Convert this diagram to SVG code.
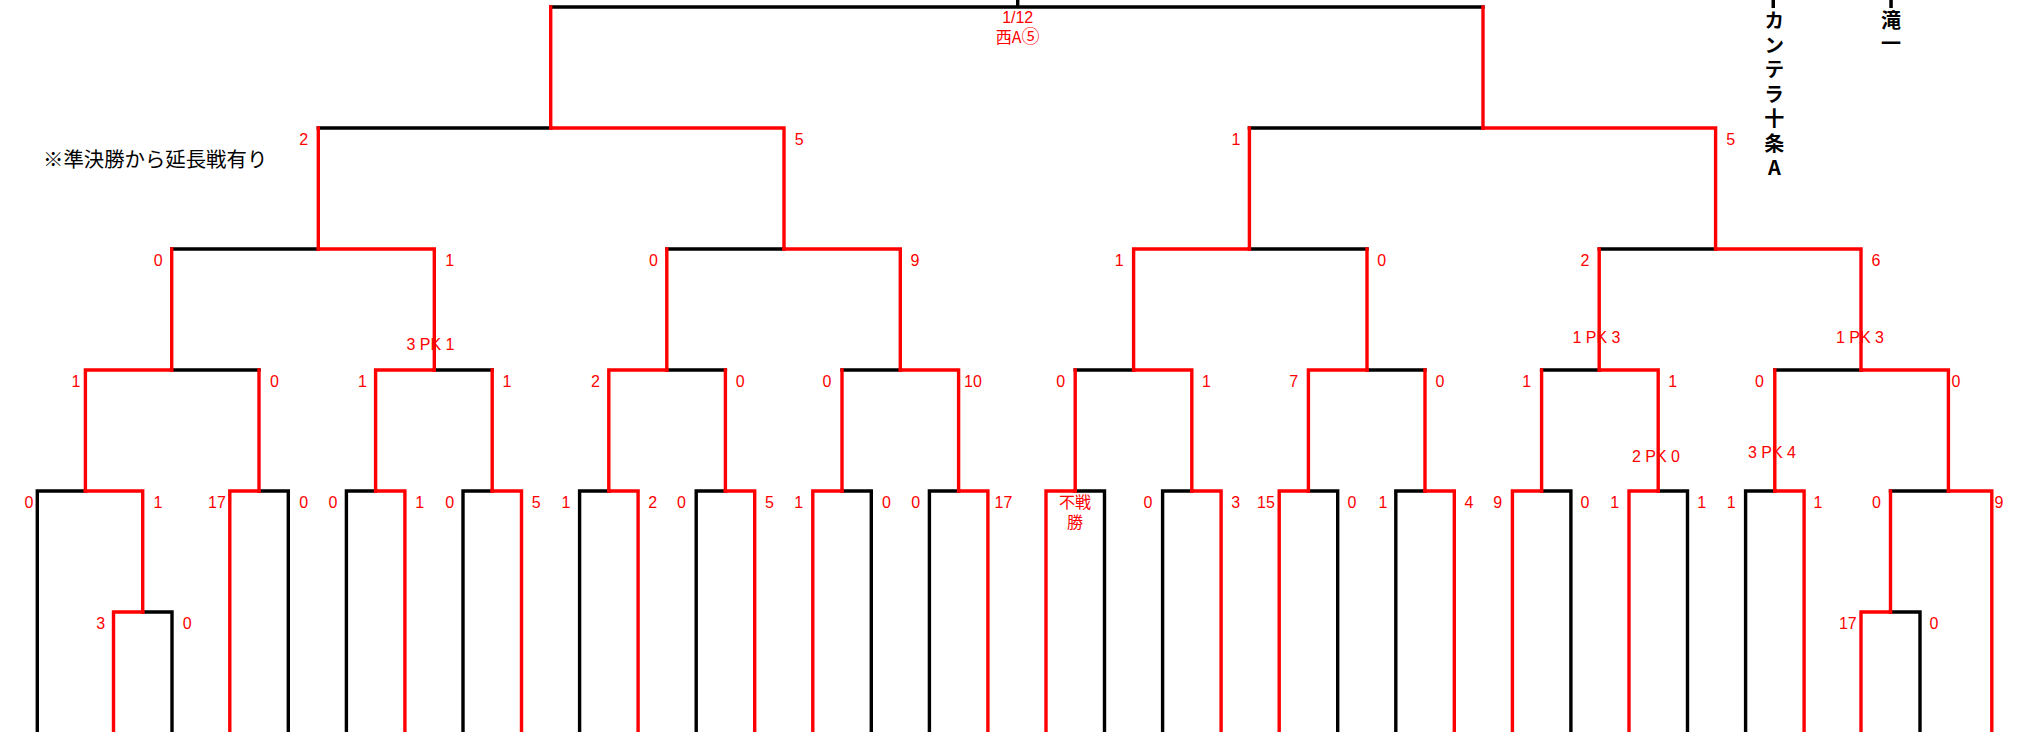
<svg xmlns="http://www.w3.org/2000/svg" width="2031" height="732" viewBox="0 0 2031 732">
<style>
.k{fill:none;stroke:#000;stroke-width:3.4;stroke-linejoin:miter;stroke-linecap:square}
.r{fill:none;stroke:#FF0000;stroke-width:3.4;stroke-linejoin:miter;stroke-linecap:square}
.s{font-family:"Liberation Sans",Arial,sans-serif;font-size:16px;fill:#FF0000;text-anchor:middle}
.j{font-family:"Noto Sans CJK JP","Liberation Sans",sans-serif;font-size:16px;fill:#FF0000;text-anchor:middle}
.v{font-family:"Noto Sans CJK JP","Liberation Sans",sans-serif;font-size:20px;font-weight:bold;fill:#000;writing-mode:vertical-rl;text-orientation:upright}
.n{font-family:"Noto Sans CJK JP","Liberation Sans",sans-serif;font-size:20.4px;fill:#000}
</style>
<rect width="2031" height="732" fill="#fff"/>
<g id="connectors">
<g id="black-lines">
<path class="k" d="M550.7 7 H1483 M1017.7 0 V7"/>
<path class="k" d="M318.3 128 H550.7 M1249.4 128 H1483"/>
<path class="k" d="M171.7 249 H318.3 M666.8 249 H784 M1249.4 249 H1367 M1599.2 249 H1715.6"/>
<path class="k" d="M171.7 370 H259 M434.3 370 H492.2 M666.8 370 H725.4 M842 370 H900.3 M1075.2 370 H1133.6 M1367 370 H1425 M1541.6 370 H1599.2 M1774.8 370 H1861"/>
<path class="k" d="M37.3 736 V491 H85.4 M259 491 H288.3 V736 M346.4 736 V491 H375.6 M463 736 V491 H492.2 M579.6 736 V491 H608.8 M696.2 736 V491 H725.4 M842 491 H871.3 V736 M929.4 736 V491 H958.6 M1075.2 491 H1104.5 V736 M1162.6 736 V491 H1191.8 M1308.4 491 H1337.7 V736 M1395.8 736 V491 H1425 M1541.6 491 H1570.9 V736 M1658.2 491 H1687.5 V736 M1745.6 736 V491 H1774.8 M1890.5 491 H1948.4"/>
<path class="k" d="M142.7 612 H172 V736 M1890.5 612 H1920 V736"/>
</g>
<g id="red-lines">
<path class="r" d="M550.7 7 V128 M1483 7 V128"/>
<path class="r" d="M318.3 249 V128 M550.7 128 H784 V249 M1249.4 249 V128 M1483 128 H1715.6 V249"/>
<path class="r" d="M171.7 370 V249 M318.3 249 H434.3 V370 M666.8 370 V249 M784 249 H900.3 V370 M1133.6 370 V249 H1249.4 M1367 249 V370 M1599.2 370 V249 M1715.6 249 H1861 V370"/>
<path class="r" d="M85.4 491 V370 H171.7 M259 370 V491 M375.6 491 V370 H434.3 M492.2 370 V491 M608.8 491 V370 H666.8 M725.4 370 V491 M842 491 V370 M900.3 370 H958.6 V491 M1075.2 491 V370 M1133.6 370 H1191.8 V491 M1308.4 491 V370 H1367 M1425 370 V491 M1541.6 491 V370 M1599.2 370 H1658.2 V491 M1774.8 491 V370 M1861 370 H1948.4 V491"/>
<path class="r" d="M85.4 491 H142.7 V612 M229.8 736 V491 H259 M375.6 491 H404.9 V736 M492.2 491 H521.5 V736 M608.8 491 H638.1 V736 M725.4 491 H754.7 V736 M812.8 736 V491 H842 M958.6 491 H987.9 V736 M1046 736 V491 H1075.2 M1191.8 491 H1221.1 V736 M1279.2 736 V491 H1308.4 M1425 491 H1454.3 V736 M1512.4 736 V491 H1541.6 M1629 736 V491 H1658.2 M1774.8 491 H1804.1 V736 M1890.5 612 V491 M1948.4 491 H1991.8 V736"/>
<path class="r" d="M113.5 736 V612 H142.7 M1861 736 V612 H1890.5"/>
</g>
</g>
<g id="note"><text class="n" x="43" y="167">※準決勝から延長戦有り</text></g>
<g id="final"><text class="s" x="1017.7" y="23">1/12</text><text class="j" x="1017.7" y="43">西A<tspan style="font-size:18px">⑤</tspan></text></g>
<g id="team-kantera"><rect x="1771.5" y="0" width="3.5" height="8" fill="#000"/><text class="v" x="1774.3" y="10.7" letter-spacing="4.5">カンテラ十条A</text></g>
<g id="team-takiichi"><rect x="1889.3" y="0" width="3.5" height="8" fill="#000"/><text class="v" x="1891" y="10" letter-spacing="3.3">滝一</text></g>
<g id="semis">
<text class="s" x="303.6" y="145">2</text><text class="s" x="799.3" y="145">5</text>
<text class="s" x="1236" y="145">1</text><text class="s" x="1730.7" y="145">5</text>
</g>
<g id="quarters">
<text class="s" x="158.3" y="266">0</text><text class="s" x="449.7" y="266">1</text>
<text class="s" x="653.5" y="266">0</text><text class="s" x="915" y="266">9</text>
<text class="s" x="1119.3" y="266">1</text><text class="s" x="1381.7" y="266">0</text>
<text class="s" x="1585" y="266">2</text><text class="s" x="1876" y="266">6</text>
</g>
<g id="round3">
<text class="s" x="76" y="387">1</text><text class="s" x="274.5" y="387">0</text>
<text class="s" x="362.5" y="387">1</text><text class="s" x="507" y="387">1</text>
<text class="s" x="595.5" y="387">2</text><text class="s" x="740.3" y="387">0</text>
<text class="s" x="827" y="387">0</text><text class="s" x="973" y="387">10</text>
<text class="s" x="1060.8" y="387">0</text><text class="s" x="1206.5" y="387">1</text>
<text class="s" x="1293.8" y="387">7</text><text class="s" x="1440" y="387">0</text>
<text class="s" x="1526.8" y="387">1</text><text class="s" x="1672.8" y="387">1</text>
<text class="s" x="1759.5" y="387">0</text><text class="s" x="1956" y="387">0</text>
<text class="s" x="430.5" y="350">3 PK 1</text>
<text class="s" x="1596.5" y="343">1 PK 3</text>
<text class="s" x="1860" y="343">1 PK 3</text>
</g>
<g id="round2">
<text class="s" x="29" y="508">0</text><text class="s" x="158" y="508">1</text>
<text class="s" x="217" y="508">17</text><text class="s" x="303.8" y="508">0</text>
<text class="s" x="333" y="508">0</text><text class="s" x="419.8" y="508">1</text>
<text class="s" x="449.6" y="508">0</text><text class="s" x="536.2" y="508">5</text>
<text class="s" x="566" y="508">1</text><text class="s" x="652.7" y="508">2</text>
<text class="s" x="681.5" y="508">0</text><text class="s" x="769.4" y="508">5</text>
<text class="s" x="798.7" y="508">1</text><text class="s" x="886.5" y="508">0</text>
<text class="s" x="915.6" y="508">0</text><text class="s" x="1003.4" y="508">17</text>
<text class="j" x="1075" y="507.7">不戦</text><text class="j" x="1075" y="528.3">勝</text>
<text class="s" x="1148" y="508">0</text><text class="s" x="1235.8" y="508">3</text>
<text class="s" x="1266" y="508">15</text><text class="s" x="1352" y="508">0</text>
<text class="s" x="1383" y="508">1</text><text class="s" x="1469" y="508">4</text>
<text class="s" x="1497.6" y="508">9</text><text class="s" x="1585" y="508">0</text>
<text class="s" x="1614.8" y="508">1</text><text class="s" x="1701.6" y="508">1</text>
<text class="s" x="1731.2" y="508">1</text><text class="s" x="1818" y="508">1</text>
<text class="s" x="1876.5" y="508">0</text><text class="s" x="1999" y="508">9</text>
<text class="s" x="1656" y="462.4">2 PK 0</text>
<text class="s" x="1772" y="458.4">3 PK 4</text>
</g>
<g id="round1">
<text class="s" x="100.6" y="629">3</text><text class="s" x="187.3" y="629">0</text>
<text class="s" x="1847.8" y="629">17</text><text class="s" x="1934" y="629">0</text>
</g>
</svg>
